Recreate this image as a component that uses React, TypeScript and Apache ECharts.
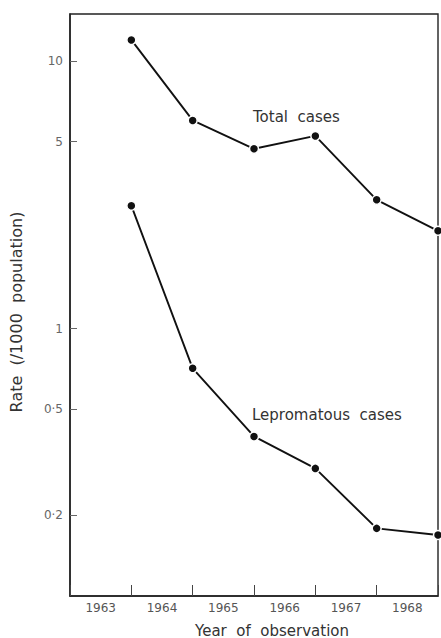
import React, { useEffect, useRef } from "react";
import * as echarts from "echarts";

const years = [1963, 1964, 1965, 1966, 1967, 1968];
const totalCases = [12.0, 6.0, 4.7, 5.25, 3.03, 2.32];
const lepromatousCases = [2.88, 0.71, 0.395, 0.30, 0.179, 0.169];
const yTicks = [0.2, 0.5, 1, 5, 10];

const FONT = "DejaVu Sans, Verdana, sans-serif";

export default function App() {
  const ref = useRef<HTMLDivElement>(null);
  useEffect(() => {
    if (!ref.current) return;
    const chart = echarts.init(ref.current, undefined, { renderer: "svg" });
    const toPts = (vals: number[]) => vals.map((v, i) => [years[i] + 1, v]);
    const lineSeries = (name: string, vals: number[]) => ({
      name,
      type: "line",
      xAxisIndex: 1,
      yAxisIndex: 0,
      data: toPts(vals),
      symbol: "circle",
      symbolSize: 9,
      lineStyle: { color: "#111", width: 1.9 },
      itemStyle: { color: "#111", borderColor: "#fff", borderWidth: 1.5 },
      z: 3,
    });
    chart.setOption({
      animation: false,
      backgroundColor: "#fff",
      grid: {
        left: 70,
        right: 3,
        top: 14,
        bottom: 42,
        show: true,
        borderColor: "#222",
        borderWidth: 1.4,
        outerBoundsMode: "none",
        containLabel: false,
      },
      xAxis: [
        {
          type: "category",
          data: years.map(String),
          boundaryGap: true,
          axisLine: { lineStyle: { color: "#222", width: 1.5 } },
          axisTick: { show: true, inside: true, length: 11, alignWithLabel: false, lineStyle: { color: "#444", width: 1 } },
          axisLabel: { color: "#555", fontSize: 12, fontFamily: FONT, margin: 6 },
          name: "Year  of  observation",
          nameLocation: "middle",
          nameGap: 27,
          nameTextStyle: { color: "#333", fontSize: 15, fontFamily: FONT, padding: [0, 0, 0, 36] },
          splitLine: { show: false },
        },
        {
          type: "value",
          min: years[0],
          max: years[years.length - 1] + 1,
          show: false,
          splitLine: { show: false },
        },
      ],
      yAxis: {
        type: "log",
        logBase: 10,
        min: 0.1,
        max: 15,
        axisLine: { show: true, lineStyle: { color: "#222", width: 1.5 } },
        axisTick: { show: true, inside: true, length: 7, customValues: yTicks, lineStyle: { color: "#666", width: 1 } },
        minorTick: { show: false },
        axisLabel: {
          color: "#666",
          fontSize: 12,
          fontFamily: FONT,
          margin: 7,
          customValues: yTicks,
          formatter: (v: number) => String(v).replace(".", "·"),
        },
        splitLine: { show: false },
        name: "Rate  (/1000  population)",
        nameLocation: "middle",
        nameGap: 46,
        nameRotate: 90,
        nameTextStyle: { color: "#333", fontSize: 16, fontFamily: FONT, padding: [0, 14, 0, 0] },
      },
      graphic: [
        {
          type: "text",
          x: 253,
          y: 117,
          style: { text: "Total  cases", fill: "#333", font: `15px ${FONT}`, verticalAlign: "middle" },
        },
        {
          type: "text",
          x: 252,
          y: 415,
          style: { text: "Lepromatous  cases", fill: "#333", font: `15px ${FONT}`, verticalAlign: "middle" },
        },
      ],
      series: [lineSeries("Total cases", totalCases), lineSeries("Lepromatous cases", lepromatousCases)],
    });
    return () => chart.dispose();
  }, []);
  return <div ref={ref} style={{ width: 441, height: 638, position: "fixed", left: 0, top: 0 }} />;
}
